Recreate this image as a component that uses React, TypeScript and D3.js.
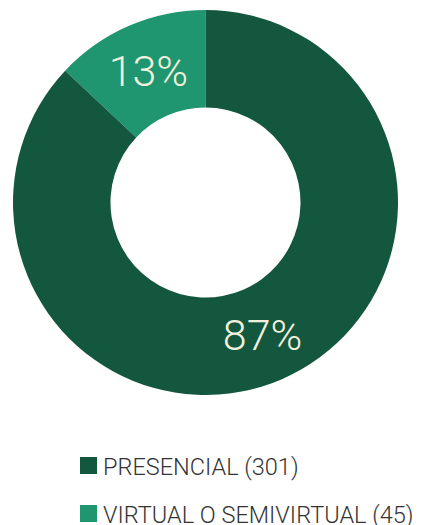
import React from "react";
import * as d3 from "d3";

const categories = ["VIRTUAL O SEMIVIRTUAL", "PRESENCIAL"];
const values = [45, 301];
const colors = ["#1f9670", "#14573f"];
const legendOrder = [1, 0];

export default function App() {
  const W = 421, H = 525;
  const cx = 205.5, cy = 202.5, rOuter = 192.5, rInner = 95;
  const total = d3.sum(values);
  const startA = -2 * Math.PI * values[0] / total;
  const pie = d3.pie<number>().sort(null).startAngle(startA).endAngle(startA + 2 * Math.PI);
  const arcs = pie(values);
  const arc = d3.arc<d3.PieArcDatum<number>>().innerRadius(rInner).outerRadius(rOuter);
  return (
    <svg width={W} height={H} style={{ position: "absolute", left: 0, top: 0 }}>
      <g transform={`translate(${cx},${cy})`}>
        {arcs.map((a, i) => (
          <path key={i} d={arc(a) || ""} fill={colors[i]} />
        ))}
        {arcs.map((a, i) => {
          const [x, y] = arc.centroid(a);
          return (
            <text key={"t" + i} x={x} y={y} dy="0.36em" textAnchor="middle"
              fontFamily="Roboto" fontWeight={300} fontSize={43} fill="#f2f0dc">
              {Math.round((values[i] / total) * 100) + "%"}
            </text>
          );
        })}
      </g>
      {legendOrder.map((idx, j) => (
        <g key={"l" + j} transform={`translate(80,${457 + j * 48})`}>
          <rect x={0} y={0} width={17} height={17} fill={colors[idx]} />
          <text x={23} y={18} fontFamily="Roboto" fontWeight={300} fontSize={23.5} fill="#333">
            {`${categories[idx]} (${values[idx]})`}
          </text>
        </g>
      ))}
    </svg>
  );
}
